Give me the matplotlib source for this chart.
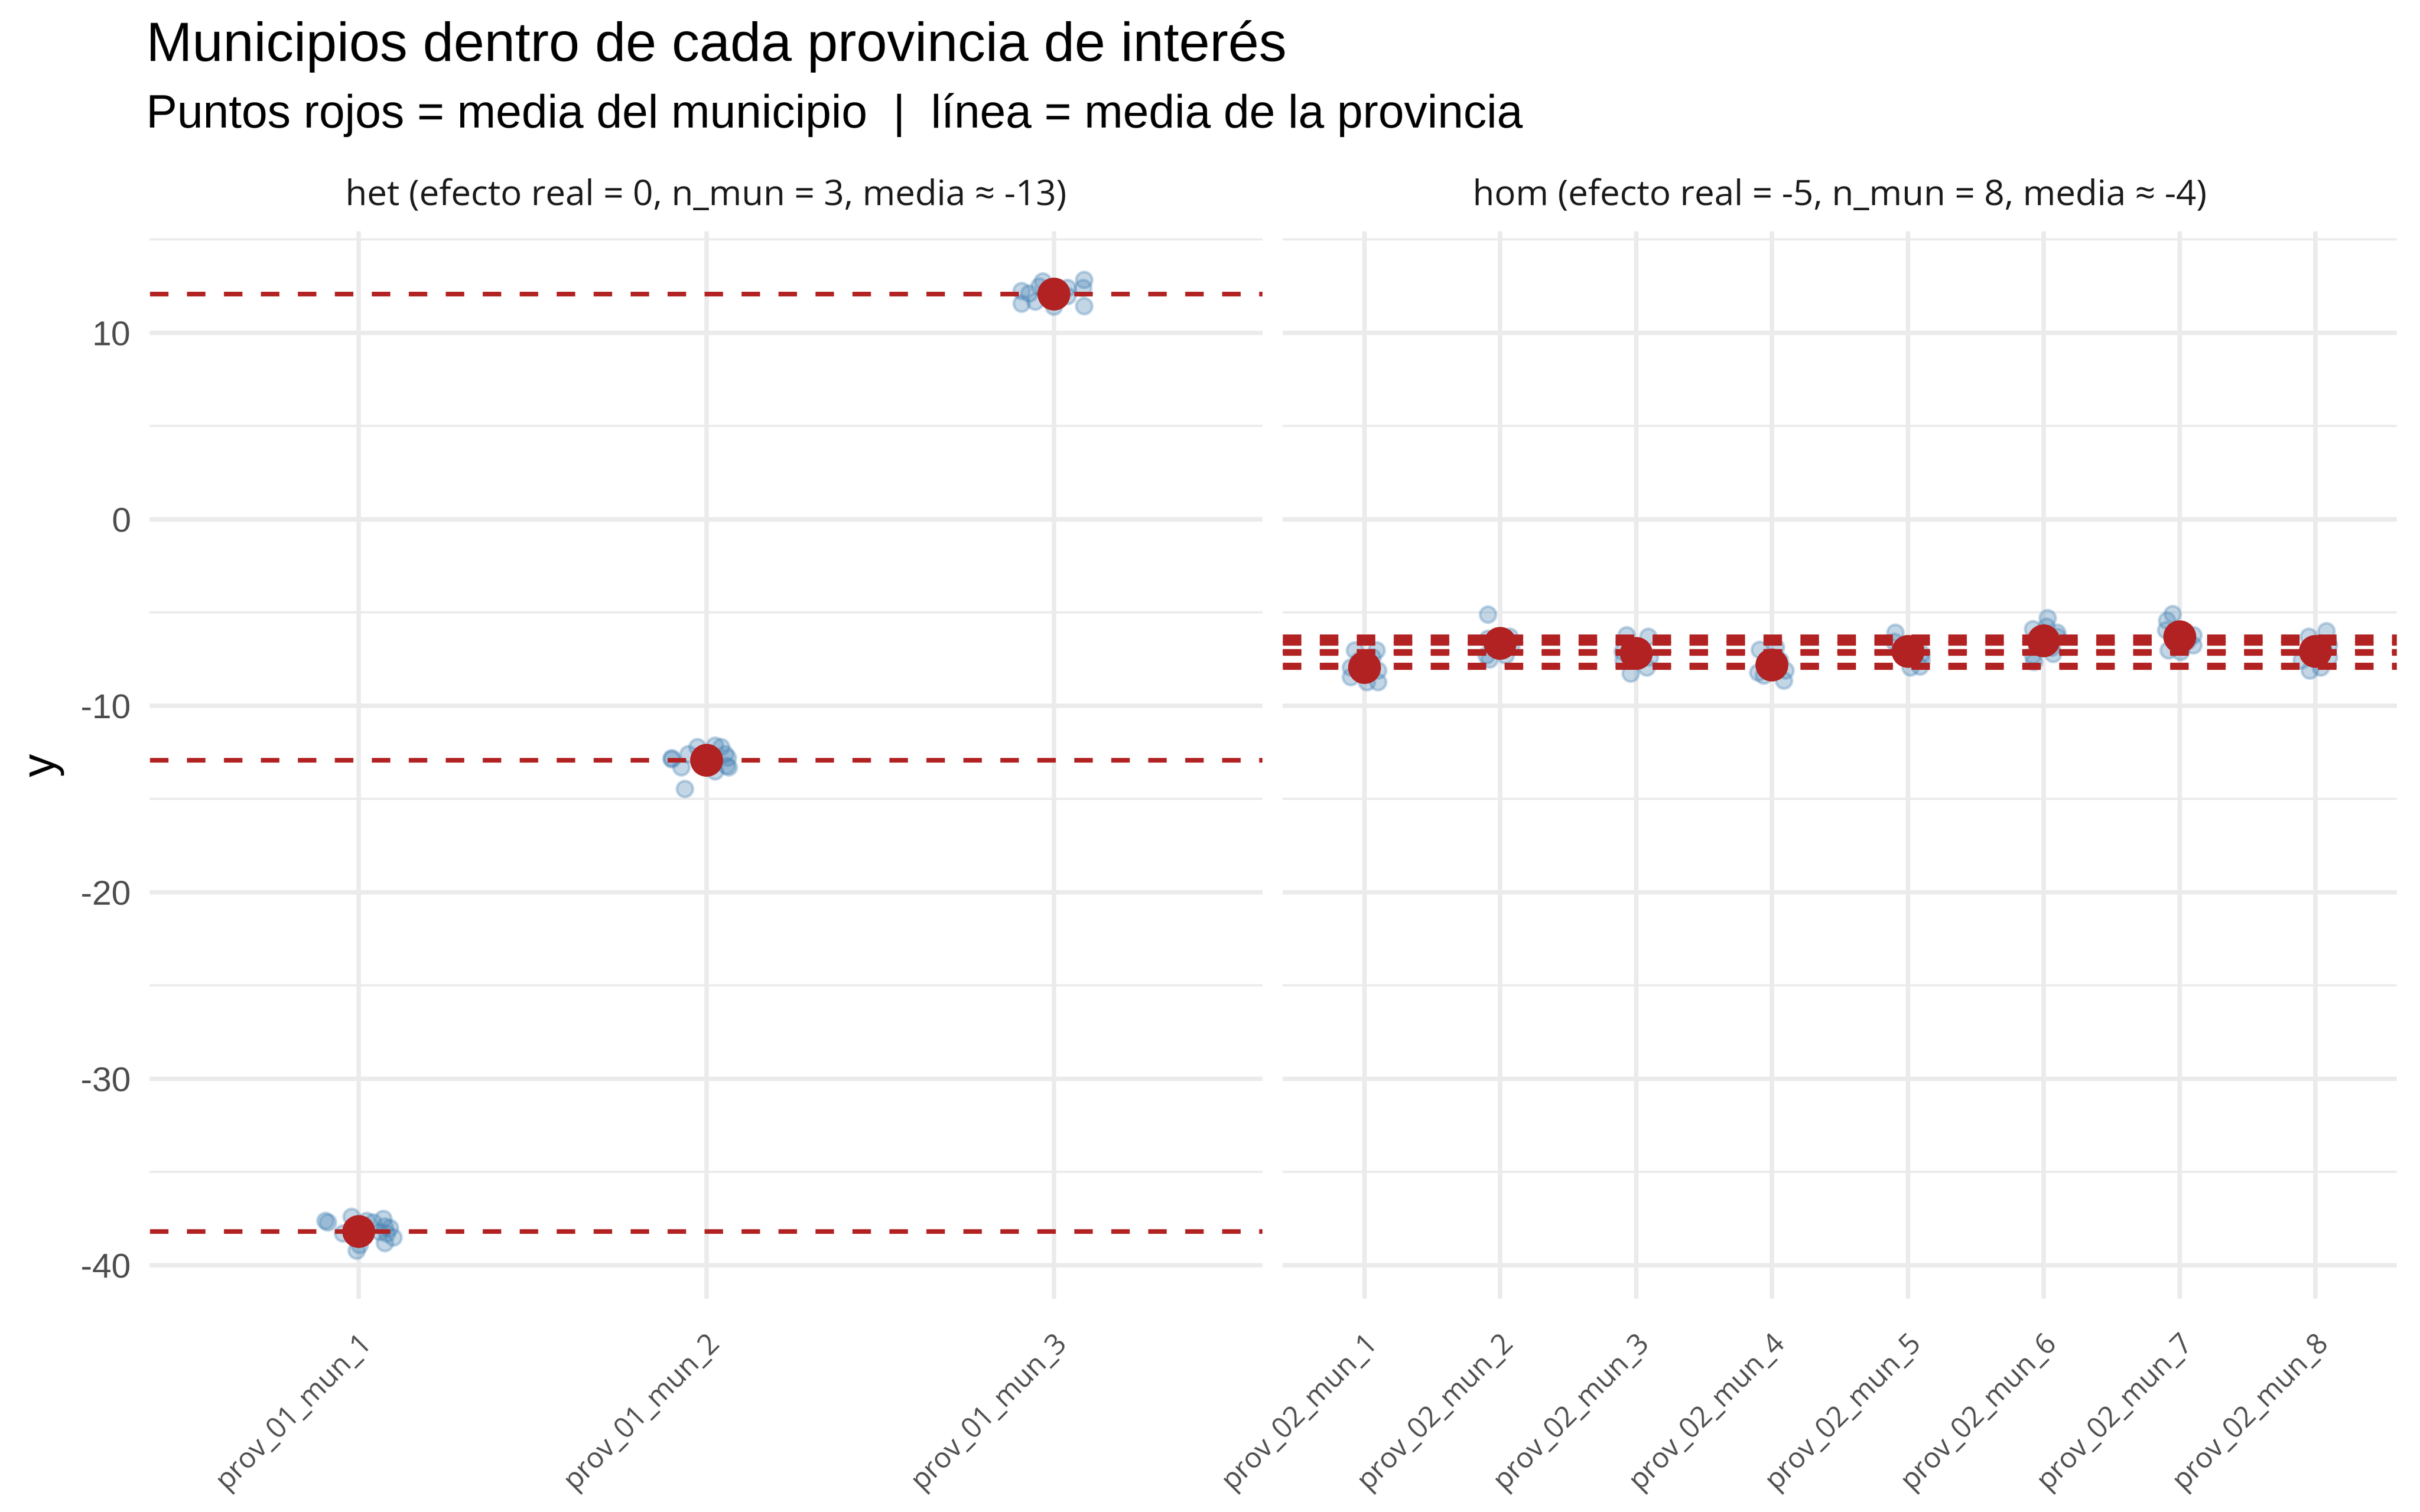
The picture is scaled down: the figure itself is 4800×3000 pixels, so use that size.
import matplotlib
matplotlib.use("Agg")
import matplotlib.pyplot as plt
from matplotlib.transforms import ScaledTranslation
import numpy as np

plt.rcParams["axes.unicode_minus"] = False

# ---------------- data ----------------
het_labels = ["prov_01_mun_1", "prov_01_mun_2", "prov_01_mun_3"]
hom_labels = ["prov_02_mun_1", "prov_02_mun_2", "prov_02_mun_3", "prov_02_mun_4",
              "prov_02_mun_5", "prov_02_mun_6", "prov_02_mun_7", "prov_02_mun_8"]

het_title = "het (efecto real = 0, n_mun = 3, media \u2248 -13)"
hom_title = "hom (efecto real = -5, n_mun = 8, media \u2248 -4)"

# municipality means (red points / dashed lines)
het_means = [-38.17, -12.92, 12.07]
hom_means = [-7.93, -6.65, -7.19, -7.82, -7.07, -6.52, -6.30, -7.09]

# individual observations: jitter offsets (category units) and y values
het_dx = [
    [-0.096, -0.088, -0.020, -0.045, -0.006, 0.003, 0.023, 0.042, 0.071, 0.075, 0.081, 0.100, 0.075, 0.061, 0.090],
    [-0.099, -0.100, -0.072, -0.051, -0.025, -0.062, 0.025, 0.043, 0.054, 0.058, 0.025, 0.062, 0.065, -0.014],
    [-0.094, -0.094, -0.072, -0.054, -0.033, -0.043, 0.000, 0.039, 0.039, 0.087, 0.083, 0.087, -0.022, 0.014],
]
het_y = [
    [-37.6, -37.7, -37.4, -38.3, -39.2, -38.9, -37.6, -37.7, -37.5, -37.9, -38.3, -38.5, -38.8, -38.2, -38.0],
    [-12.85, -12.8, -13.3, -12.6, -12.22, -14.45, -12.14, -12.22, -12.6, -13.2, -13.5, -12.78, -13.3, -13.1],
    [12.25, 11.57, 12.1, 11.68, 12.76, 12.48, 11.4, 12.4, 11.96, 12.83, 12.4, 11.44, 12.2, 12.3],
]
hom_dx = [
    [-0.07, 0.09, -0.10, -0.10, 0.02, 0.10, 0.10, 0.06, -0.04, 0.04],
    [-0.09, 0.07, -0.09, -0.10, -0.08, 0.04, -0.04, 0.08, -0.01],
    [-0.07, 0.09, -0.10, -0.04, 0.08, 0.10, -0.09, 0.01, 0.04],
    [-0.09, 0.03, -0.10, 0.09, 0.10, 0.06, -0.06, -0.03, 0.01],
    [-0.09, -0.10, 0.10, 0.09, 0.02, 0.10, -0.06, 0.05, -0.02],
    [0.03, 0.02, -0.08, 0.10, 0.10, -0.08, -0.07, 0.07, -0.02, 0.06],
    [-0.05, -0.09, -0.10, 0.10, 0.10, -0.08, 0.01, 0.06, -0.03],
    [0.08, -0.05, 0.10, -0.10, -0.04, 0.04, 0.10, 0.01, 0.06],
]
hom_y = [
    [-7.02, -7.02, -7.93, -8.45, -8.72, -8.72, -8.10, -7.40, -7.60, -7.80],
    [-5.1, -6.3, -6.4, -7.3, -7.5, -7.3, -6.85, -6.8, -6.6],
    [-6.2, -6.3, -7.1, -8.28, -7.93, -7.4, -7.56, -7.0, -7.2],
    [-7.0, -6.85, -8.2, -8.65, -8.1, -7.56, -8.37, -7.7, -8.0],
    [-6.07, -6.56, -7.56, -7.9, -7.93, -7.2, -7.0, -7.3, -6.9],
    [-5.3, -5.75, -5.9, -6.07, -6.3, -7.3, -7.65, -7.2, -6.6, -6.9],
    [-5.08, -5.43, -5.94, -6.2, -6.75, -7.02, -7.1, -6.5, -6.6],
    [-5.99, -6.3, -6.75, -7.56, -8.1, -7.93, -7.4, -7.2, -7.0],
]

y_major = [-40, -30, -20, -10, 0, 10]
y_minor = [-35, -25, -15, -5, 5, 15]

# ---------------- style ----------------
BLUE = "#4682B4"
RED = "#B22222"
GRID = "#EBEBEB"
TXT = "#4D4D4D"
SANS = ["Liberation Sans", "DejaVu Sans"]
OPEN = ["Open Sans", "DejaVu Sans"]

fig = plt.figure(figsize=(16, 10), dpi=300)
fig.patch.set_facecolor("white")

ax1 = fig.add_axes([0.0619, 0.141, 0.4598, 0.706])
ax2 = fig.add_axes([0.5300, 0.141, 0.4604, 0.706], sharey=ax1)

all_y = [v for grp in het_y + hom_y for v in grp] + het_means + hom_means
ymin, ymax = min(all_y), max(all_y)
rng = ymax - ymin


def draw_panel(ax, labels, means, dxs, ys, title, show_y):
    n = len(labels)
    for s in ax.spines.values():
        s.set_visible(False)
    ax.set_xlim(0.4, n + 0.6)
    ax.set_ylim(ymin - 0.05 * rng, ymax + 0.05 * rng)
    ax.set_xticks(range(1, n + 1))
    ax.set_yticks(y_major)
    ax.set_yticks(y_minor, minor=True)
    ax.grid(True, which="major", color=GRID, linewidth=2.1, zorder=0)
    ax.grid(True, which="minor", axis="y", color=GRID, linewidth=1.05, zorder=0)
    ax.set_axisbelow(True)
    ax.tick_params(which="both", length=0)
    ax.tick_params(axis="y", labelsize=16.5, labelcolor=TXT, pad=9)
    ax.set_xticklabels(labels, rotation=45, ha="right", va="top",
                       rotation_mode="anchor", fontsize=13.5, color=TXT,
                       family=OPEN)
    ax.tick_params(axis="x", pad=14)
    for lbl in ax.get_xticklabels():
        lbl.set_transform(lbl.get_transform() +
                          ScaledTranslation(-0.6 / 72, 0, fig.dpi_scale_trans))
    for lbl in ax.get_yticklabels():
        lbl.set_family(SANS)
    if not show_y:
        plt.setp(ax.get_yticklabels(), visible=False)

    # observations
    for i in range(n):
        xs = [i + 1 + d for d in dxs[i]]
        ax.scatter(xs, ys[i], s=58, facecolor=BLUE, edgecolor=BLUE,
                   linewidths=1.3, alpha=0.32, zorder=2)
    # dashed lines at municipality means
    for m in means:
        ax.axhline(m, color=RED, linewidth=2.2, linestyle=(0, (4, 4)), zorder=3)
    # red mean points
    ax.scatter(range(1, n + 1), means, s=245, color=RED, linewidths=0, zorder=4)

    ax.text(0.5, 1.033, title, transform=ax.transAxes, ha="center",
            va="center", fontsize=16.9, color="#1A1A1A", family=OPEN)


draw_panel(ax1, het_labels, het_means, het_dx, het_y, het_title, True)
draw_panel(ax2, hom_labels, hom_means, hom_dx, hom_y, hom_title, False)

fig.text(0.0267, 0.494, "y", rotation=90, ha="right", va="center",
         fontsize=22, family=SANS, color="black")

fig.text(0.0605, 0.9597, "Municipios dentro de cada provincia de inter\u00e9s",
         ha="left", va="baseline", fontsize=26.3, family=SANS, color="black")
fig.text(0.0605, 0.9157, "Puntos rojos = media del municipio  |  l\u00ednea = media de la provincia",
         ha="left", va="baseline", fontsize=22.1, family=SANS, color="black")

fig.savefig("out.png", dpi=300, facecolor="white")
